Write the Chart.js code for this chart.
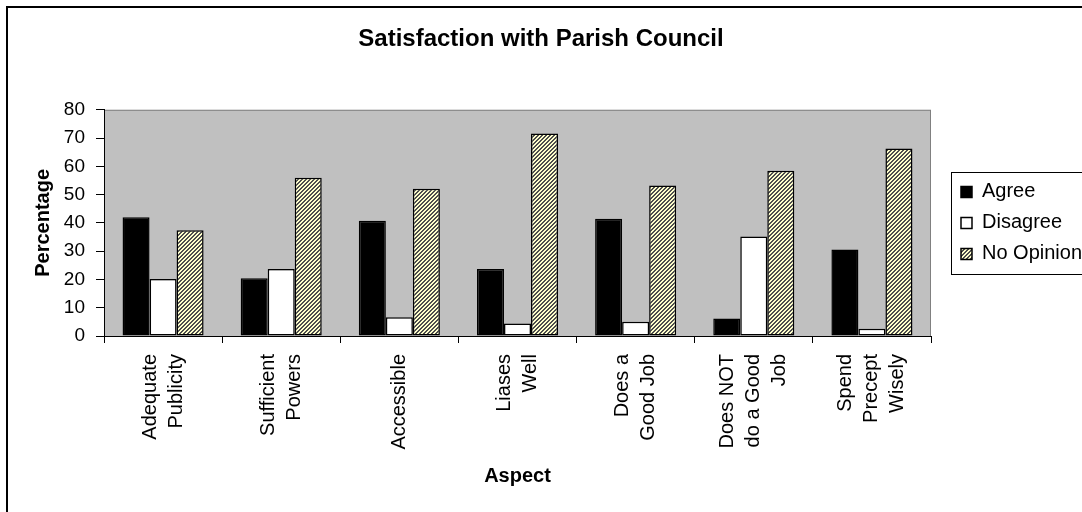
<!DOCTYPE html>
<html>
<head>
<meta charset="utf-8">
<title>Satisfaction with Parish Council</title>
<script src="https://cdn.jsdelivr.net/npm/chart.js@4.4.0/dist/chart.umd.min.js"></script>
<style>
  html, body { margin: 0; padding: 0; background: #fff; overflow: hidden; }
  #wrap { position: absolute; left: 0; top: 0; width: 1082px; height: 512px; }
  #frame {
    position: absolute; left: 6px; top: 6px; width: 1200px; height: 800px;
    border: 2px solid #000; pointer-events: none;
  }
</style>
</head>
<body>
<div id="wrap"><canvas id="myChart"></canvas></div>
<div id="frame"></div>
<script>
// values
const categories = [
  ["Adequate", "Publicity"],
  ["Sufficient", "Powers"],
  ["Accessible"],
  ["Liases", "Well"],
  ["Does a", "Good Job"],
  ["Does NOT", "do a Good", "Job"],
  ["Spend", "Precept", "Wisely"],
];
const agree = [42.0, 20.4, 40.8, 23.7, 41.5, 6.2, 30.6];
const disagree = [20.2, 23.7, 6.6, 4.4, 5.0, 35.2, 2.6];
const noOpinion = [37.4, 56.0, 52.1, 71.6, 53.2, 58.4, 66.3];
const seriesNames = ["Agree", "Disagree", "No Opinion"];
const yTicks = [0, 10, 20, 30, 40, 50, 60, 70, 80];

window.addEventListener("DOMContentLoaded", () => {
  Chart.defaults.font.family = '"Liberation Sans", Arial, sans-serif';
  Chart.defaults.color = "#000";

  // yellow tile with dark upward diagonal hatching
  const makeHatch = () => {
    const tile = document.createElement("canvas");
    tile.width = 4;
    tile.height = 4;
    const tctx = tile.getContext("2d");
    for (let x = 0; x < 4; x++) {
      for (let y = 0; y < 4; y++) {
        tctx.fillStyle = (x + y) % 4 < 2 ? "#4d4d4d" : "#ffffcc";
        tctx.fillRect(x, y, 1, 1);
      }
    }
    return document.createElement("canvas").getContext("2d").createPattern(tile, "repeat");
  };
  const hatch = makeHatch();

  // category axis that centres multi-line rotated labels on the tick
  class CenteredCategoryScale extends Chart.CategoryScale {
    static id = "centeredCategory";
    static defaults = Chart.CategoryScale.defaults;
    _computeLabelItems(chartArea) {
      const items = super._computeLabelItems(chartArea);
      items.forEach((item) => {
        const lines = Array.isArray(item.label) ? item.label.length : 1;
        item.options.translation[0] -= ((lines - 1) * item.font.lineHeight) / 2;
      });
      return items;
    }
  }
  Chart.register(CenteredCategoryScale);

  const plotBackground = {
    id: "plotBackground",
    beforeDraw: (chart) => {
      const { ctx, chartArea } = chart;
      const { left, top, right, bottom } = chartArea;
      ctx.save();
      ctx.fillStyle = "#c0c0c0";
      ctx.fillRect(left, top, right - left, bottom - top);
      ctx.strokeStyle = "#808080";
      ctx.lineWidth = 1;
      ctx.strokeRect(left + 0.5, top + 0.5, right - left - 1, bottom - top);
      ctx.restore();
    },
  };

  const legendFrame = {
    id: "legendFrame",
    afterDraw: (chart) => {
      const boxes = chart.legend.legendHitBoxes;
      if (!boxes || !boxes.length) return;
      const first = boxes[0];
      const last = boxes[boxes.length - 1];
      const ctx = chart.ctx;
      ctx.save();
      ctx.strokeStyle = "#000";
      ctx.lineWidth = 1;
      ctx.strokeRect(
        Math.round(first.left - 10) + 0.5,
        Math.round(first.top - 10) + 0.5,
        400,
        Math.round(last.top + last.height - first.top + 20)
      );
      ctx.restore();
    },
  };

  const data = {
    labels: categories,
    datasets: [
      { label: seriesNames[0], data: agree, backgroundColor: "#000000" },
      { label: seriesNames[1], data: disagree, backgroundColor: "#ffffff" },
      { label: seriesNames[2], data: noOpinion, backgroundColor: hatch },
    ],
  };
  data.datasets.forEach((ds) => {
    ds.borderColor = "#000";
    ds.borderWidth = 1.5;
    ds.borderSkipped = false;
    ds.categoryPercentage = 0.686;
    ds.barPercentage = 1.0;
  });

  const config = {
    type: "bar",
    data: data,
    plugins: [plotBackground, legendFrame],
    options: {
      responsive: true,
      maintainAspectRatio: false,
      animation: false,
      layout: { padding: { left: 0, right: 0, top: 0, bottom: 0 } },
      plugins: {
        tooltip: { enabled: false },
        title: {
          display: true,
          text: "Satisfaction with Parish Council",
          color: "#000",
          font: { size: 24, weight: "bold" },
          padding: { top: 25, bottom: 56 },
        },
        legend: {
          position: "right",
          fullSize: false,
          align: "center",
          maxWidth: 132,
          labels: {
            boxWidth: 11,
            boxHeight: 11,
            padding: 11,
            color: "#000",
            font: { size: 20 },
          },
        },
      },
      scales: {
        x: {
          type: "centeredCategory",
          offset: true,
          grid: {
            offset: true,
            drawOnChartArea: false,
            drawTicks: true,
            tickLength: 7,
            color: "#000",
          },
          border: { display: true, color: "#000", width: 1 },
          ticks: {
            autoSkip: false,
            minRotation: 90,
            maxRotation: 90,
            padding: 11,
            color: "#000",
            font: { size: 20, lineHeight: 1.3 },
          },
          title: {
            display: true,
            text: "Aspect",
            color: "#000",
            font: { size: 20, weight: "bold" },
            padding: { top: 0, bottom: 24 },
          },
          afterFit: (scale) => {
            scale.height = 176;
          },
        },
        y: {
          min: yTicks[0],
          max: yTicks[yTicks.length - 1],
          grid: {
            drawOnChartArea: false,
            drawTicks: true,
            tickLength: 8,
            color: "#000",
          },
          border: { display: true, color: "#000", width: 1 },
          afterBuildTicks: (scale) => {
            scale.ticks = yTicks.map((v) => ({ value: v }));
          },
          ticks: {
            padding: 11,
            color: "#000",
            font: { size: 19 },
          },
          title: {
            display: true,
            text: "Percentage",
            color: "#000",
            font: { size: 20, weight: "bold" },
            padding: { top: 31, bottom: 0 },
          },
          afterFit: (scale) => {
            scale.width = 104;
          },
        },
        // empty axis that keeps a gap between plot area and legend
        gap: {
          type: "linear",
          position: "right",
          display: true,
          grid: { display: false },
          border: { display: false },
          ticks: { display: false },
          afterFit: (scale) => {
            scale.width = 19;
          },
        },
      },
    },
  };

  const ctx = document.getElementById("myChart").getContext("2d");
  new Chart(ctx, config);
});
</script>
</body>
</html>
